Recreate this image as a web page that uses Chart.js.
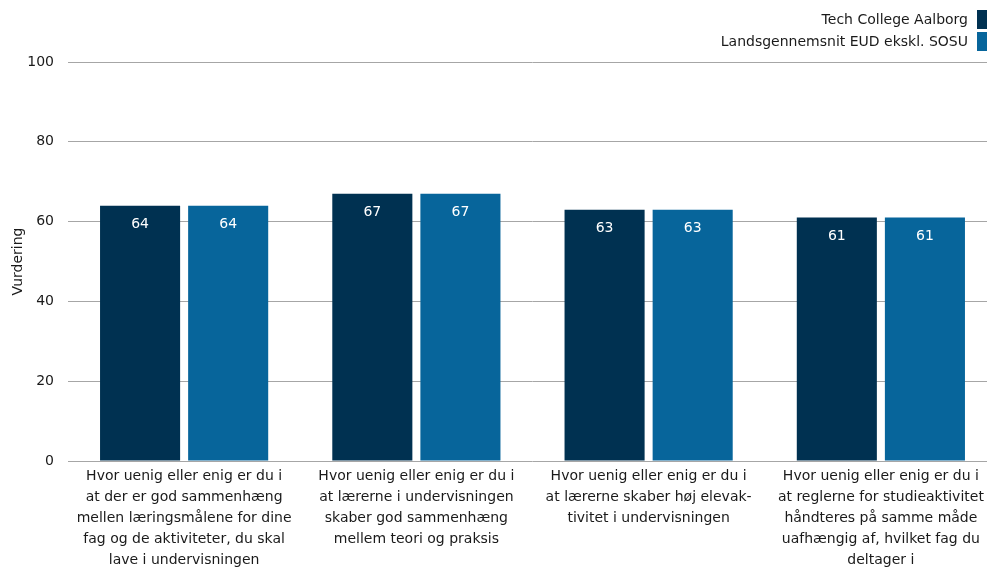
<!DOCTYPE html>
<html>
<head>
<meta charset="utf-8">
<script src="https://cdn.jsdelivr.net/npm/chart.js@4/dist/chart.umd.min.js"></script>
<style>
  html, body { margin: 0; padding: 0; background: #fff; overflow: hidden; }
  #wrap { position: relative; width: 997px; height: 568px; }
  #legend { position: absolute; right: 10px; top: 8px; font: 14px Tahoma, "DejaVu Sans", sans-serif; color: #1a1a1a; }
  #legend div { display: flex; justify-content: flex-end; align-items: center; height: 22px; }
  #legend span.box { display: inline-block; width: 10px; height: 19px; margin-left: 9px; }
</style>
</head>
<body>
<div id="wrap">
  <canvas id="c" width="997" height="568"></canvas>
  <div id="legend"></div>
</div>
<script>
// grouped bar chart: two series per question, values printed inside the bars

const CATEGORIES = [
  ['Hvor uenig eller enig er du i', 'at der er god sammenhæng', 'mellen læringsmålene for dine', 'fag og de aktiviteter, du skal', 'lave i undervisningen'],
  ['Hvor uenig eller enig er du i', 'at lærerne i undervisningen', 'skaber god sammenhæng', 'mellem teori og praksis'],
  ['Hvor uenig eller enig er du i', 'at lærerne skaber høj elevak-', 'tivitet i undervisningen'],
  ['Hvor uenig eller enig er du i', 'at reglerne for studieaktivitet', 'håndteres på samme måde', 'uafhængig af, hvilket fag du', 'deltager i'],
];
const SERIES_NAMES = ['Tech College Aalborg', 'Landsgennemsnit EUD ekskl. SOSU'];
const TECH_VALUES = [64, 67, 63, 61];
const LANDS_VALUES = [64, 67, 63, 61];
const Y_TICKS = [0, 20, 40, 60, 80, 100];

const COLORS = ['#003151', '#07659b'];
const FONT = 'Tahoma, "DejaVu Sans", sans-serif';

// html legend, stacked and right aligned like the original
const legendEl = document.getElementById('legend');
SERIES_NAMES.forEach((name, i) => {
  const row = document.createElement('div');
  const txt = document.createElement('span');
  txt.textContent = name;
  const box = document.createElement('span');
  box.className = 'box';
  box.style.background = COLORS[i];
  row.appendChild(txt);
  row.appendChild(box);
  legendEl.appendChild(row);
});

// white value labels just below the top of every bar
const valueLabels = {
  id: 'valueLabels',
  afterDatasetsDraw(chart) {
    const ctx = chart.ctx;
    ctx.save();
    ctx.fillStyle = '#fff';
    ctx.font = '14px ' + FONT;
    ctx.textAlign = 'center';
    ctx.textBaseline = 'middle';
    chart.data.datasets.forEach((ds, di) => {
      chart.getDatasetMeta(di).data.forEach((bar, i) => {
        ctx.fillText(String(ds.data[i]), bar.x, bar.y + 19);
      });
    });
    ctx.restore();
  }
};

new Chart(document.getElementById('c'), {
  type: 'bar',
  data: {
    labels: CATEGORIES,
    datasets: [
      { label: SERIES_NAMES[0], data: TECH_VALUES, backgroundColor: COLORS[0] },
      { label: SERIES_NAMES[1], data: LANDS_VALUES, backgroundColor: COLORS[1] },
    ]
  },
  options: {
    responsive: false,
    animation: false,
    layout: { padding: { top: 62, right: 0, left: 0, bottom: 0 } },
    datasets: { bar: { categoryPercentage: 0.7586, barPercentage: 0.909 } },
    scales: {
      x: {
        grid: { display: false },
        border: { display: false },
        ticks: { color: '#1a1a1a', font: { size: 14, family: FONT, lineHeight: 1.5 }, maxRotation: 0, autoSkip: false, padding: -3 },
        afterFit(s) { s.height = 107; },
      },
      y: {
        min: 0, max: 100,
        afterBuildTicks(s) { s.ticks = Y_TICKS.map(v => ({ value: v })); },
        grid: { color: '#a6a6a6', drawTicks: false },
        border: { display: false },
        ticks: { color: '#1a1a1a', font: { size: 14, family: FONT }, padding: 14 },
        title: { display: true, text: 'Vurdering', color: '#1a1a1a', font: { size: 14, family: FONT }, padding: { top: 10, bottom: 0 } },
        afterFit(s) { s.width = 68; },
      }
    },
    plugins: {
      legend: { display: false },
      tooltip: { enabled: false },
    }
  },
  plugins: [valueLabels]
});
</script>
</body>
</html>
